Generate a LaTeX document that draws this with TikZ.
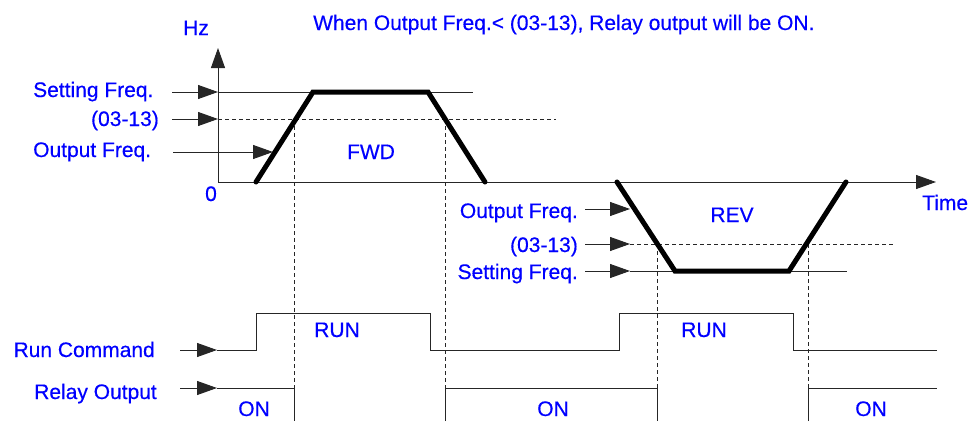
\documentclass[tikz,border=0pt]{standalone}
\usepackage{fontspec}
\setmainfont{Liberation Sans}
\newfontfamily\lblfont[FakeBold=0.4]{Liberation Sans}
\usetikzlibrary{arrows.meta}
\begin{document}
\begin{tikzpicture}[x=1pt,y=-1pt,
  lbl/.style={text=blue, font=\lblfont\fontsize{21}{25}\selectfont, inner sep=0pt},
  sig/.style={line width=1pt, black!85},
  tri/.style={sig, -{Triangle[length=20pt 0 0,width=14pt 0 0]}},
  dsh/.style={line width=0.8pt, black!85, dash pattern=on 4pt off 3pt},
  ramp/.style={line width=5pt, line cap=round, line join=miter}
]
\useasboundingbox (0,0) rectangle (970,421);

% ---------- texts ----------
\node[lbl, anchor=base west] (title) at (313,30) {When Output Freq.< (03-13), Relay output will be ON.};
\node[lbl, anchor=base] (hz) at (196,35) {Hz};
\node[lbl, anchor=base west] (lsf) at (33,97) {Setting Freq.};
\node[lbl, anchor=base east] (l13) at (159,126) {(03-13)};
\node[lbl, anchor=base west] (lof) at (33,157) {Output Freq.};
\node[lbl, anchor=base] (zero) at (211,201) {0};
\node[lbl, anchor=base] (fwd) at (371,159) {FWD};
\node[lbl, anchor=base east] (rof) at (578,218) {Output Freq.};
\node[lbl, anchor=base east] (r13) at (578,252) {(03-13)};
\node[lbl, anchor=base east] (rsf) at (578,279) {Setting Freq.};
\node[lbl, anchor=base] (rev) at (732,222) {REV};
\node[lbl, anchor=base west] (time) at (922,210) {Time};
\node[lbl, anchor=base east] (runc) at (155,357) {Run Command};
\node[lbl, anchor=base east] (relo) at (157,399) {Relay Output};
\node[lbl, anchor=base] (run1) at (337,337) {RUN};
\node[lbl, anchor=base] (run2) at (704,337) {RUN};
\node[lbl, anchor=base] (on1) at (254,416) {ON};
\node[lbl, anchor=base] (on2) at (553,416) {ON};
\node[lbl, anchor=base] (on3) at (871,416) {ON};

% ---------- axes ----------
\coordinate (O) at (218,182);
\coordinate (ytop) at (218,48);
\coordinate (xend) at (936,182);
\draw[tri] (O) -- (ytop);
\draw[tri] (O) -- (xend);

% ---------- FWD level lines ----------
\coordinate (sfA) at (172,92);  \coordinate (sfB) at (218,92);  \coordinate (sfC) at (473,92);
\coordinate (cA) at (172,119);  \coordinate (cB) at (218,119);  \coordinate (cC) at (556,119);
\coordinate (ofA) at (173,152); \coordinate (ofB) at (273,152);
\draw[tri] (sfA) -- (sfB);
\draw[sig] (sfB) -- (sfC);
\draw[tri] (cA) -- (cB);
\draw[dsh] (cB) -- (cC);
\draw[tri] (ofA) -- (ofB);

% ---------- REV level lines ----------
\coordinate (rofA) at (585,209); \coordinate (rofB) at (630,209);
\coordinate (rcA) at (585,244);  \coordinate (rcB) at (630,244);  \coordinate (rcC) at (893,244);
\coordinate (rsfA) at (585,271); \coordinate (rsfB) at (630,271); \coordinate (rsfC) at (847,271);
\draw[tri] (rofA) -- (rofB);
\draw[tri] (rcA) -- (rcB);
\draw[dsh] (rcB) -- (rcC);
\draw[tri] (rsfA) -- (rsfB);
\draw[sig] (rsfB) -- (rsfC);

% ---------- dashed guides ----------
\coordinate (d1t) at (294,119); \coordinate (d1b) at (294,388);
\coordinate (d2t) at (445,119); \coordinate (d2b) at (445,388);
\coordinate (d3t) at (657,244); \coordinate (d3b) at (657,388);
\coordinate (d4t) at (808,244); \coordinate (d4b) at (808,388);
\draw[dsh] (d1t) -- (d1b);
\draw[dsh] (d2t) -- (d2b);
\draw[dsh] (d3t) -- (d3b);
\draw[dsh] (d4t) -- (d4b);

% ---------- speed profiles ----------
\coordinate (A0) at (256,182); \coordinate (A1) at (313,92);
\coordinate (A2) at (428,92);  \coordinate (A3) at (485,182);
\draw[ramp] (A0) -- (A1) -- (A2) -- (A3);
\coordinate (B0) at (617,182); \coordinate (B1) at (675,271);
\coordinate (B2) at (789,271); \coordinate (B3) at (846,182);
\draw[ramp] (B0) -- (B1) -- (B2) -- (B3);

% ---------- run command ----------
\coordinate (rA) at (180,350); \coordinate (rB) at (217,350);
\draw[tri] (rA) -- (rB);
\draw[sig] (rB) -- (256,350) -- (256,313.5) -- (430,313.5) -- (430,350)
  -- (619,350) -- (619,313.5) -- (793,313.5) -- (793,350) -- (937,350);

% ---------- relay output ----------
\coordinate (qA) at (180,388); \coordinate (qB) at (217,388);
\draw[tri] (qA) -- (qB);
\draw[sig] (qB) -- (d1b) -- (294,421);
\draw[sig] (445,421) -- (d2b) -- (d3b) -- (657,421);
\draw[sig] (808,421) -- (d4b) -- (937,388);
\end{tikzpicture}
\end{document}
